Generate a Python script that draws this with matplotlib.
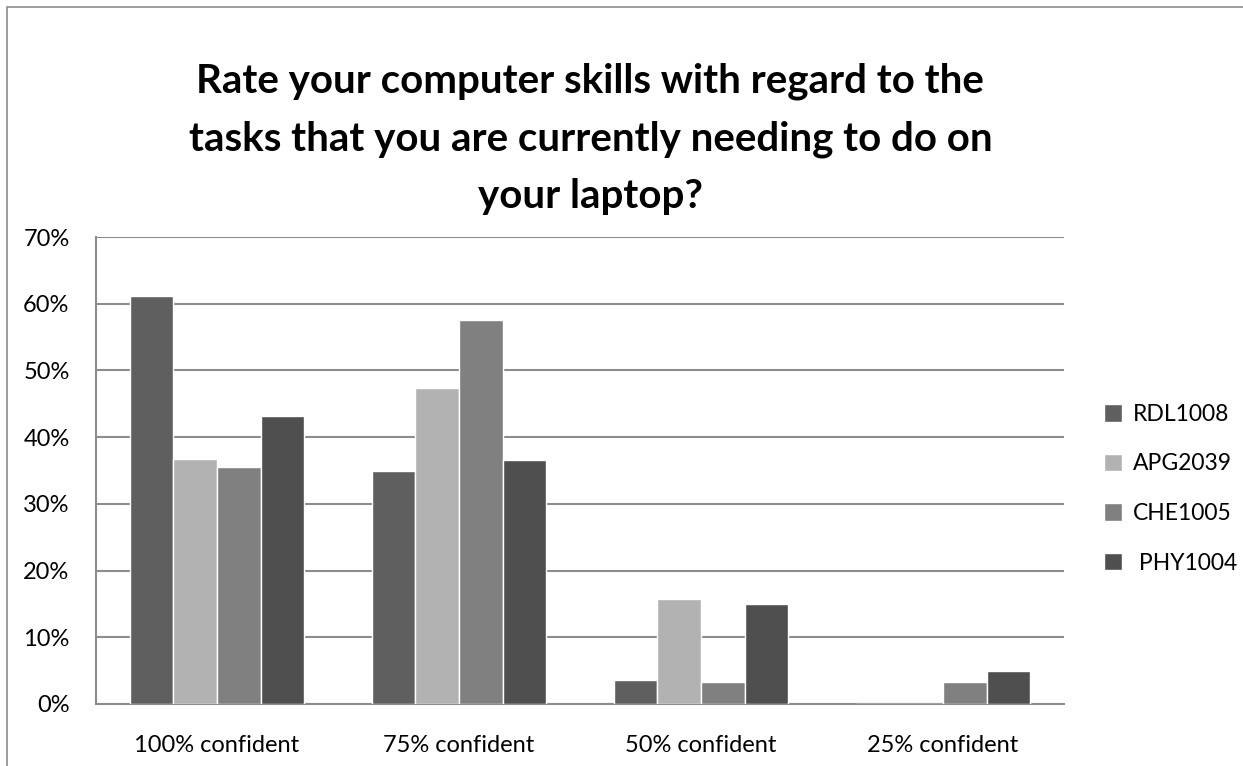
import numpy as np
import matplotlib
matplotlib.use('Agg')
import matplotlib.pyplot as plt
from matplotlib.patches import Rectangle
from matplotlib.ticker import PercentFormatter

plt.rcParams['font.family'] = ['Lato', 'DejaVu Sans']

# --- data ---
categories = ['100% confident', '75% confident', '50% confident', '25% confident']
series_names = ['RDL1008', 'APG2039', 'CHE1005', ' PHY1004']
rdl1008 = [61.2, 35.0, 3.6, 0.0]
apg2039 = [36.7, 47.4, 15.7, 0.0]
che1005 = [35.5, 57.6, 3.3, 3.3]
phy1004 = [43.2, 36.6, 15.0, 5.0]
series_values = [rdl1008, apg2039, che1005, phy1004]
colors = ['#5f5f5f', '#b2b2b2', '#808080', '#4f4f4f']

W, H = 1243, 766
fig = plt.figure(figsize=(W / 100, H / 100), dpi=100)

# outer chart border (only top/left visible in the reference)
fig.patches.append(Rectangle((7 / W, -0.1), 1.2, 1 - 7 / H + 0.1, transform=fig.transFigure,
                             fill=False, edgecolor='#8c8c8c', linewidth=1.2))

ax = fig.add_axes([96 / W, 1 - 704 / H, (1064 - 96) / W, (704 - 237) / H])

x = np.arange(len(categories))
bw = 0.18
for i, (name, vals) in enumerate(zip(series_names, series_values)):
    ax.bar(x + (i - 1.5) * bw, vals, bw, color=colors[i], edgecolor='white',
           linewidth=1.0, label=name, zorder=3)

ax.set_xlim(-0.5, len(categories) - 0.5)
ax.set_ylim(0, 70)
ax.set_yticks(np.arange(0, 71, 10))
ax.yaxis.set_major_formatter(PercentFormatter(decimals=0))
ax.grid(axis='y', color='#8c8c8c', linewidth=1.5, zorder=0)
ax.set_xticks(x)
ax.set_xticklabels(categories)
for s in ['top', 'right']:
    ax.spines[s].set_visible(False)
for s in ['left', 'bottom']:
    ax.spines[s].set_color('#8c8c8c')
    ax.spines[s].set_linewidth(1.5)
ax.tick_params(axis='both', length=0, labelsize=17, colors='black')
ax.tick_params(axis='x', pad=22)
ax.tick_params(axis='y', pad=19)

leg = ax.legend(loc='center left', bbox_to_anchor=(1.02, 0.461), frameon=False,
                fontsize=16.5, handlelength=0.8, handleheight=0.8, handletextpad=0.45,
                labelspacing=1.25)

fig.text(0.475, 1 - 139 / H,
         'Rate your computer skills with regard to the\ntasks that you are currently needing to do on\nyour laptop?',
         ha='center', va='center', fontsize=29, fontweight='bold', linespacing=1.68)

fig.savefig('out.png', dpi=100)
